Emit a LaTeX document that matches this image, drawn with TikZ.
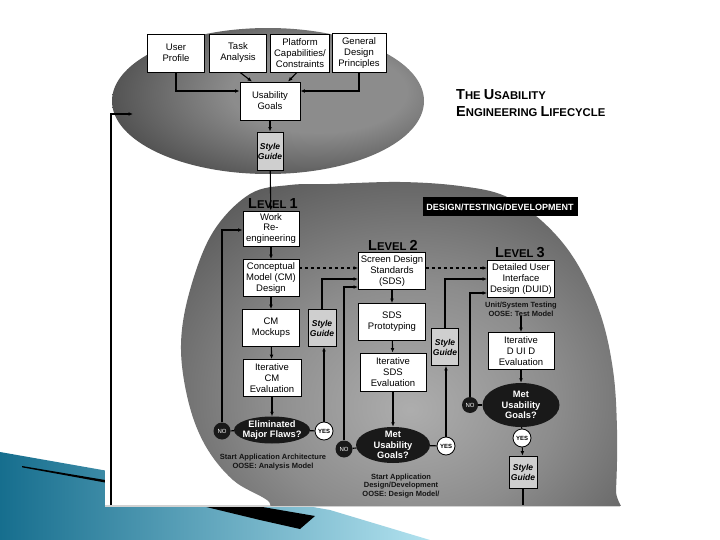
\documentclass[tikz,border=0pt]{standalone}
\usepackage{fontspec}
\setmainfont{Liberation Sans}
\usetikzlibrary{arrows.meta,shapes.geometric}
\definecolor{tealD}{RGB}{22,110,142}
\definecolor{tealM}{RGB}{55,163,198}
\definecolor{tealL}{RGB}{178,226,239}
\definecolor{gA}{gray}{0.68}
\definecolor{gB}{gray}{0.55}
\definecolor{gC}{gray}{0.34}
\definecolor{gD}{gray}{0.12}
\definecolor{gE}{gray}{0.06}
\pgfdeclareradialshading{blobshade}{\pgfpoint{0bp}{-6bp}}{color(0bp)=(gA); color(16bp)=(gB); color(34bp)=(gC); color(48bp)=(gD); color(75bp)=(gE)}
\pgfdeclareradialshading{topshade}{\pgfpoint{10bp}{4bp}}{color(0bp)=(gB); color(14bp)=(gB); color(30bp)=(gC); color(46bp)=(gD); color(75bp)=(gE)}
\tikzset{
  bx/.style={draw, line width=0.8pt, fill=white, align=center, inner sep=0pt, font=\fontsize{9.5}{11}\selectfont},
  sgbox/.style={draw, line width=0.8pt, fill=gray!38, align=center, inner sep=0pt, minimum width=27pt, minimum height=37pt, font=\fontsize{8.5}{10}\selectfont\bfseries\itshape},
  dec/.style={ellipse, fill=black!90, inner sep=0pt},
  dectxt/.style={text=white, align=center, inner sep=0pt, font=\fontsize{9.3}{10.5}\selectfont\bfseries},
  yesc/.style={circle, draw, line width=0.8pt, fill=white, minimum size=18pt, inner sep=0pt, font=\fontsize{6}{6}\selectfont\bfseries},
  noc/.style={circle, fill=black!90, text=white, minimum size=17pt, inner sep=0pt, font=\fontsize{6}{6}\selectfont},
  note/.style={align=center, inner sep=0pt, text=black!92, font=\fontsize{7.5}{8.7}\selectfont\bfseries},
  lvl/.style={anchor=base west, inner sep=0pt, font=\bfseries},
  arr/.style={-{Latex[length=4.5pt,width=3.8pt]}, line width=1.1pt},
  ln/.style={line width=1.1pt},
}
\newcommand\bigC[1]{{\fontsize{14.5}{16}\selectfont #1}}
\newcommand\smC[1]{{\fontsize{11.3}{16}\selectfont #1}}
\begin{document}
\begin{tikzpicture}[x=1pt,y=-1pt]
\useasboundingbox (0,0) rectangle (720,540);
\fill[white] (0,0) rectangle (720,540);
% slide decoration
\shade[left color=tealD, middle color=tealM, right color=tealL] (0,452) -- (330,510) -- (430,540) -- (0,540) -- cycle;
\fill[black] (22,466) -- (105,480) -- (315,516) -- (300,529) -- (260,520) -- (105,482.5) -- (22,467.3) -- cycle;
% picture frame
\fill[white] (105,0) rectangle (622,505);
\draw[gray!35, line width=1.5pt] (105,506) -- (620,506);
% grey regions
\begin{scope}
  \clip (0,29) rectangle (720,505);
  \shade[shading=topshade] (268,101) ellipse [x radius=156, y radius=73];
  \shade[shading=blobshade] plot[smooth cycle, tension=0.6] coordinates {
    (330,184) (400,182) (460,186) (505,196) (543,222) (575,260) (600,313)
    (613,370) (617,430) (616,490) (612,530) (450,548) (290,520) (267,500)
    (233,480) (205,445) (188,400) (181,345) (190,290) (213,232) (250,194) (290,185)};
\end{scope}
% title
\node[lvl] (title1) at (456,100) {\bigC{T}\smC{HE }\bigC{U}\smC{SABILITY}};
\node[lvl] (title2) at (456,117) {\bigC{E}\smC{NGINEERING }\bigC{L}\smC{IFECYCLE}};
% top row
\node[bx, minimum width=57pt, minimum height=38pt] (UP) at (176,53) {User\\Profile};
\node[bx, minimum width=57pt, minimum height=38pt] (TA) at (238,53) {Task\\Analysis};
\node[bx, minimum width=59pt, minimum height=38pt] (PC) at (300,53) {Platform\\Capabilities/\\Constraints};
\node[bx, minimum width=54pt, minimum height=39pt] (GD) at (359,53) {General\\Design\\Principles};
\node[bx, minimum width=60pt, minimum height=38pt] (UG) at (270,101) {Usability\\Goals};
\node[sgbox, minimum width=26pt, minimum height=38pt] (SG0) at (270,151) {Style\\Guide};
% level 1
\node[lvl] (L1) at (248,208) {\bigC{L}\smC{EVEL }\bigC{1}};
\node[bx, minimum width=56pt, minimum height=35pt, font=\fontsize{9.5}{10.3}\selectfont] (W) at (271,228.5) {Work\\Re-\\engineering};
\node[bx, minimum width=56pt, minimum height=37pt] (CMD) at (271,278) {Conceptual\\Model (CM)\\Design};
\node[bx, minimum width=57pt, minimum height=37pt] (CMM) at (271,328) {CM\\Mockups};
\node[bx, minimum width=58pt, minimum height=37pt] (ICM) at (272,378) {Iterative\\CM\\Evaluation};
\node[dec, minimum width=76pt, minimum height=27pt] (E1) at (272,430) {};
\node[dectxt] at (E1) {Eliminated\\Major Flaws?};
\node[noc] (NO1) at (222,431) {NO};
\node[yesc] (YES1) at (324,431) {YES};
\node[sgbox, minimum width=28pt] (SG1) at (322,328) {Style\\Guide};
\node[note] (T1) at (273,462) {Start Application Architecture\\OOSE: Analysis Model};
% level 2
\node[lvl] (L2) at (368,250) {\bigC{L}\smC{EVEL }\bigC{2}};
\node[bx, minimum width=67pt, minimum height=37pt, font=\fontsize{9.5}{10.6}\selectfont] (SDS) at (392,271) {Screen Design\\Standards\\(SDS)};
\node[bx, minimum width=67pt, minimum height=37pt] (SDSP) at (392,322) {SDS\\Prototyping};
\node[bx, minimum width=66pt, minimum height=38pt] (ISDS) at (393,372) {Iterative\\SDS\\Evaluation};
\node[dec, minimum width=74pt, minimum height=36pt] (E2) at (393,445) {};
\node[dectxt] at (E2) {Met\\Usability\\Goals?};
\node[noc] (NO2) at (344,449) {NO};
\node[yesc] (YES2) at (446,446) {YES};
\node[sgbox] (SG2) at (445,347) {Style\\Guide};
\node[note] (T2) at (401,486) {Start Application\\Design/Development\\OOSE: Design Model/};
% level 3
\node[fill=black, text=white, font=\fontsize{9}{9}\selectfont\bfseries, minimum width=155pt, minimum height=19pt, inner sep=0pt] (DTD) at (500,207) {DESIGN/TESTING/DEVELOPMENT};
\node[lvl] (L3) at (495,258) {\bigC{L}\smC{EVEL }\bigC{3}};
\node[bx, minimum width=67pt, minimum height=37pt, font=\fontsize{9.5}{10.6}\selectfont] (DUID) at (521,279) {Detailed User\\Interface\\Design (DUID)};
\node[note] (T3) at (521,309) {Unit/System Testing\\OOSE: Test Model};
\node[bx, minimum width=66pt, minimum height=37pt] (IDUID) at (521,351) {Iterative\\D UI D\\Evaluation};
\node[dec, minimum width=77pt, minimum height=44pt] (E3) at (521,405) {};
\node[dectxt] at (E3) {Met\\Usability\\Goals?};
\node[noc, minimum size=16pt] (NO3) at (470,405) {NO};
\node[yesc] (YES3) at (522,438) {YES};
\node[sgbox, minimum width=28pt, minimum height=32pt] (SG3) at (523,472) {Style\\Guide};
\coordinate (sgend) at (523,505);
% loop
\coordinate (loopA) at (111,505);
\coordinate (loopB) at (133,114);
% connectors top
\draw[arr] (UP.south) |- (UG.west |- 0,91);
\draw[arr] (GD.south) |- (UG.east |- 0,91);
\draw[arr] ([xshift=2pt]TA.south) -- ([xshift=-18pt]UG.north);
\draw[arr] ([xshift=-3pt]PC.south) -- ([xshift=18pt]UG.north);
\draw[arr] (UG) -- (SG0);
\draw[arr] (SG0) -- (W);
\draw[arr] (loopA) |- (loopB);
% level 1 connectors
\draw[arr] (W) -- (CMD);
\draw[arr] (CMD) -- (CMM);
\draw[arr] (CMM) -- (ICM);
\draw[arr] (ICM) -- (E1);
\draw[ln] (NO1) -- (E1);
\draw[ln] (E1) -- (YES1);
\draw[arr] (NO1.north) |- (W.west |- 0,230);
\draw[arr] (YES1.north) -- (YES1.north |- SG1.south);
\draw[arr] (SG1.north) |- (SDS.west |- 0,279);
\draw[arr, dashed] (CMD.east |- 0,268) -- (SDS.west |- 0,268);
% level 2 connectors
\draw[arr] (SDS) -- (SDSP);
\draw[arr] (SDSP) -- (ISDS);
\draw[arr] (ISDS) -- (E2);
\draw[ln] (NO2) -- (E2);
\draw[ln] (E2) -- (YES2);
\draw[arr] (NO2.north) |- (SDS.west |- 0,287);
\draw[arr] (YES2.north) -- (YES2.north |- SG2.south);
\draw[arr] (SG2.north) |- (DUID.west |- 0,279);
\draw[arr, dashed] (SDS.east |- 0,268) -- (DUID.west |- 0,268);
% level 3 connectors
\draw[arr] (T3) -- (IDUID);
\draw[arr] (IDUID) -- (E3);
\draw[ln] (NO3) -- (E3);
\draw[arr] (NO3.north) |- (DUID.west |- 0,293);
\draw[ln] (E3) -- (YES3);
\draw[arr] (YES3) -- (SG3);
\draw[ln] (SG3) -- (sgend);
\end{tikzpicture}
\end{document}
